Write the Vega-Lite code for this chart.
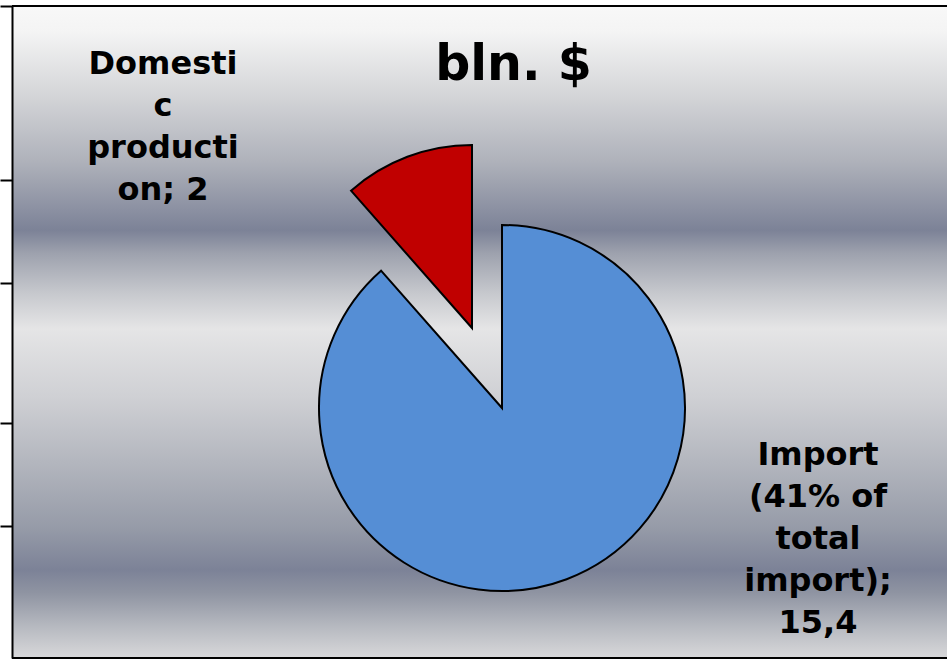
{
  "$schema": "https://vega.github.io/schema/vega-lite/v6.json",
  "width": 935,
  "height": 652,
  "autosize": {"type": "none"},
  "padding": {"left": 12, "top": 6, "right": 0, "bottom": 4},
  "background": "white",
  "config": {
    "view": {
      "stroke": null,
      "fill": {
        "gradient": "linear", "x1": 0, "y1": 0, "x2": 0, "y2": 1,
        "stops": [
          {"offset": 0, "color": "#f8f8f8"},
          {"offset": 0.04, "color": "#f4f4f4"},
          {"offset": 0.14, "color": "#d3d4d7"},
          {"offset": 0.24, "color": "#aeb1ba"},
          {"offset": 0.344, "color": "#7c8297"},
          {"offset": 0.38, "color": "#9ea2ae"},
          {"offset": 0.44, "color": "#c6c8cd"},
          {"offset": 0.495, "color": "#e5e5e6"},
          {"offset": 0.6, "color": "#cfd0d4"},
          {"offset": 0.7, "color": "#b3b6be"},
          {"offset": 0.8, "color": "#969ba8"},
          {"offset": 0.865, "color": "#7c8297"},
          {"offset": 0.9, "color": "#8f94a2"},
          {"offset": 0.95, "color": "#b5b8bf"},
          {"offset": 1, "color": "#d8d8da"}
        ]
      }
    },
    "axis": {
      "labels": false, "grid": false, "ticks": true, "tickSize": 12,
      "tickColor": "black", "tickWidth": 2, "domainColor": "black", "domainWidth": 2
    }
  },
  "title": {
    "text": "bln. $",
    "font": "DejaVu Sans",
    "fontSize": 49,
    "fontWeight": "bold",
    "color": "black",
    "anchor": "middle",
    "baseline": "alphabetic",
    "offset": 0,
    "dx": 34,
    "dy": 124
  },
  "data": {
    "values": [
      {"source": "Import", "value": 15.4, "label": "Import\n(41% of\ntotal\nimport);\n15,4"},
      {"source": "Domestic production", "value": 2, "label": "Domesti\nc\nproducti\non; 2"}
    ]
  },
  "layer": [
    {
      "mark": {"type": "arc", "radius": 183, "stroke": "black", "strokeWidth": 2, "xOffset": 22.5, "yOffset": 76},
      "encoding": {
        "theta": {"field": "value", "type": "quantitative", "stack": true},
        "order": {"field": "source", "sort": "descending"},
        "color": {"field": "source", "type": "nominal", "scale": {"domain": ["Import", "Domestic production"], "range": ["#558ed5", "#c00000"]}, "legend": null},
        "opacity": {"condition": {"test": "datum.source === 'Import'", "value": 1}, "value": 0}
      }
    },
    {
      "mark": {"type": "arc", "radius": 183, "stroke": "black", "strokeWidth": 2, "xOffset": -7.5, "yOffset": -4},
      "encoding": {
        "theta": {"field": "value", "type": "quantitative", "stack": true},
        "order": {"field": "source", "sort": "descending"},
        "color": {"field": "source", "type": "nominal", "legend": null},
        "opacity": {"condition": {"test": "datum.source === 'Domestic production'", "value": 1}, "value": 0}
      }
    },
    {
      "transform": [{"filter": "datum.source === 'Import'"}],
      "mark": {"type": "text", "font": "DejaVu Sans", "fontWeight": "bold", "fontSize": 32, "lineHeight": 42, "lineBreak": "\n", "align": "center", "baseline": "alphabetic", "color": "black", "xOffset": 338.5, "yOffset": 133},
      "encoding": {"text": {"field": "label", "type": "nominal"}}
    },
    {
      "transform": [{"filter": "datum.source === 'Domestic production'"}],
      "mark": {"type": "text", "font": "DejaVu Sans", "fontWeight": "bold", "fontSize": 32, "lineHeight": 42, "lineBreak": "\n", "align": "center", "baseline": "alphabetic", "color": "black", "xOffset": -316.5, "yOffset": -258},
      "encoding": {"text": {"field": "label", "type": "nominal"}}
    },
    {
      "data": {"values": [{}]},
      "mark": {"type": "rule", "color": "black", "strokeWidth": 2},
      "encoding": {
        "y": {"datum": 0, "type": "quantitative", "scale": {"domain": [0, 652], "reverse": true, "nice": false, "zero": false}, "axis": {"values": [0, 174, 277, 417, 520], "title": null, "orient": "left"}}
      }
    },
    {
      "data": {"values": [{}]},
      "mark": {"type": "rule", "color": "black", "strokeWidth": 2},
      "encoding": {
        "y": {"datum": 652, "type": "quantitative", "axis": {"values": [0, 174, 277, 417, 520], "title": null, "orient": "left"}}
      }
    }
  ]
}
